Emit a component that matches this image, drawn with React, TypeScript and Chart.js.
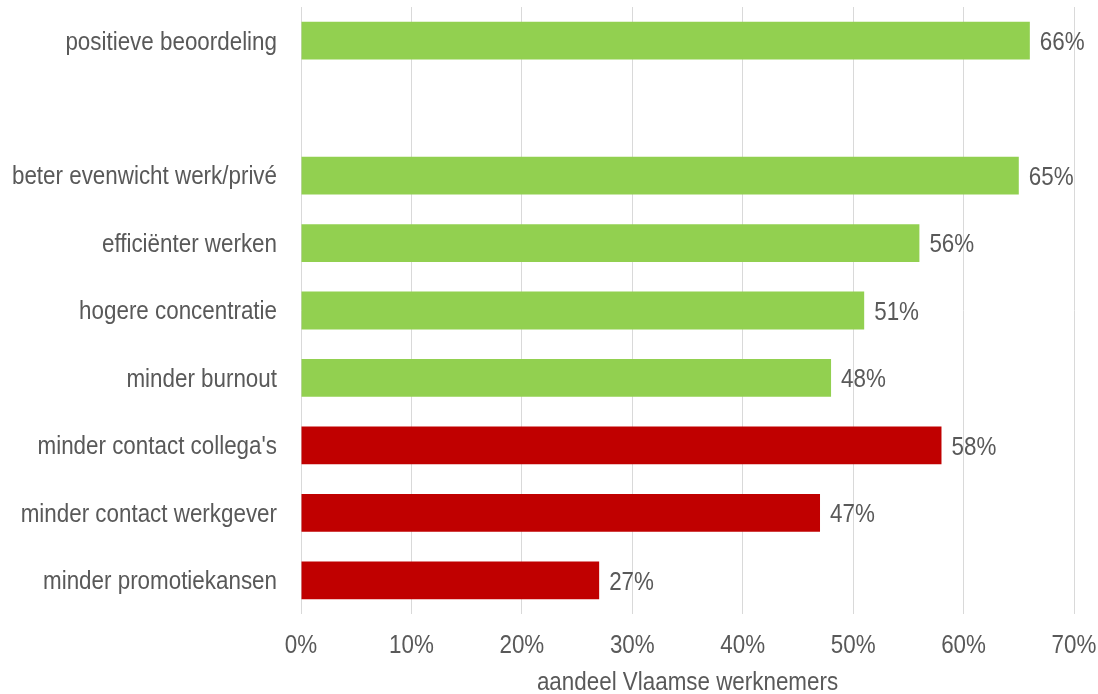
import React, { useEffect, useRef } from "react";
import { Chart, registerables } from "chart.js";

Chart.register(...registerables);

const categories = [
  "positieve beoordeling",
  "",
  "beter evenwicht werk/privé",
  "efficiënter werken",
  "hogere concentratie",
  "minder burnout",
  "minder contact collega's",
  "minder contact werkgever",
  "minder promotiekansen",
];
const values: (number | null)[] = [66, null, 65, 56, 51, 48, 58, 47, 27];
const barColors = [
  "#92D050",
  "#92D050",
  "#92D050",
  "#92D050",
  "#92D050",
  "#92D050",
  "#C00000",
  "#C00000",
  "#C00000",
];
const xTicks = [0, 10, 20, 30, 40, 50, 60, 70];
const axisTitle = "aandeel Vlaamse werknemers";

const FONT = "'Liberation Sans', Arial, sans-serif";
const TEXT = "#595959";
const SIZE = 22.4;
const STRETCH = 1.18;

function drawText(ctx: any, text: string, x: number, y: number, align: string) {
  ctx.save();
  ctx.translate(x, y);
  ctx.scale(1, STRETCH);
  ctx.textAlign = align;
  ctx.textBaseline = "middle";
  ctx.fillText(text, 0, 0);
  ctx.restore();
}

const textPlugin = {
  id: "textPlugin",
  afterDatasetsDraw(chart: any) {
    const ctx = chart.ctx;
    const area = chart.chartArea;
    const xs = chart.scales.x;
    const ys = chart.scales.y;
    const meta = chart.getDatasetMeta(0);
    ctx.save();
    ctx.font = `${SIZE}px ${FONT}`;
    ctx.fillStyle = TEXT;
    categories.forEach((c, i) => {
      if (!c) return;
      drawText(ctx, c, area.left - 24, ys.getPixelForValue(i) + 1.5, "right");
    });
    meta.data.forEach((bar: any, i: number) => {
      const v = values[i];
      if (v === null || v === undefined) return;
      drawText(ctx, `${v}%`, bar.x + 10, bar.y + 2, "left");
    });
    xTicks.forEach((t) => {
      drawText(ctx, `${t}%`, xs.getPixelForValue(t), area.bottom + 32, "center");
    });
    drawText(ctx, axisTitle, (area.left + area.right) / 2, area.bottom + 69, "center");
    ctx.restore();
  },
};

export default function App() {
  const ref = useRef<HTMLCanvasElement>(null);
  useEffect(() => {
    document.body.style.margin = "0";
    const chart = new Chart(ref.current!, {
      type: "bar",
      data: {
        labels: categories,
        datasets: [
          {
            data: values as any,
            backgroundColor: barColors,
            barPercentage: 0.56,
            categoryPercentage: 1,
          },
        ],
      },
      options: {
        indexAxis: "y",
        animation: false,
        responsive: false,
        layout: { padding: { top: 7, right: 24, left: 0, bottom: 0 } },
        plugins: {
          legend: { display: false },
          tooltip: { enabled: false },
        },
        scales: {
          x: {
            min: 0,
            max: 70,
            afterBuildTicks: (s: any) => {
              s.ticks = xTicks.map((v) => ({ value: v }));
            },
            afterFit: (s: any) => {
              s.height = 80;
              s.paddingLeft = 0;
              s.paddingRight = 0;
            },
            grid: { color: "#D9D9D9", lineWidth: 1, drawTicks: false },
            border: { display: false },
            ticks: { display: false },
            title: { display: false, text: axisTitle },
          },
          y: {
            afterFit: (s: any) => {
              s.width = 301;
              s.paddingTop = 0;
              s.paddingBottom = 0;
            },
            grid: { display: false, drawTicks: false },
            border: { display: false },
            ticks: { display: false },
          },
        },
      },
      plugins: [textPlugin],
    });
    return () => chart.destroy();
  }, []);
  return (
    <div style={{ width: 1098, height: 694 }}>
      <canvas ref={ref} width={1098} height={694} />
    </div>
  );
}
